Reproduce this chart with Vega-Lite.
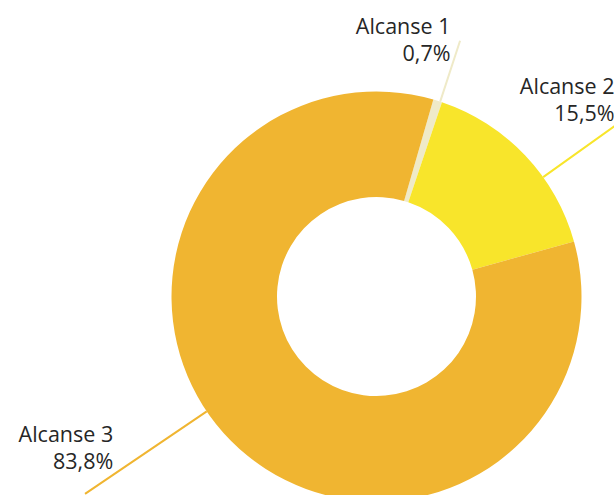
{
  "$schema": "https://vega.github.io/schema/vega-lite/v6.json",
  "width": 475,
  "height": 397,
  "autosize": "none",
  "padding": {"left": 139, "top": 98, "right": 0, "bottom": 0},
  "background": "white",
  "config": {"view": {"stroke": null}},
  "data": {
    "values": [
      {"category": "Alcanse 1", "pct": 0.7, "label": "0,7%"},
      {"category": "Alcanse 2", "pct": 15.5, "label": "15,5%"},
      {"category": "Alcanse 3", "pct": 83.8, "label": "83,8%"}
    ]
  },
  "layer": [
    {
      "mark": {"type": "arc", "innerRadius": 99.5, "outerRadius": 205},
      "encoding": {
        "theta": {"field": "pct", "type": "quantitative", "stack": true, "scale": {"domain": [0, 100], "range": [0.281, 6.5642]}},
        "color": {"field": "category", "type": "nominal", "legend": null,
          "scale": {"domain": ["Alcanse 1", "Alcanse 2", "Alcanse 3"], "range": ["#EFEAC8", "#F8E52B", "#F0B531"]}},
        "order": {"field": "category"}
      }
    },
    {
      "mark": {"type": "arc", "filled": false, "strokeWidth": 2, "innerRadius": 205},
      "encoding": {
        "theta": {"field": "pct", "type": "quantitative", "stack": null,
          "scale": {"type": "linear", "domain": [0.7, 15.5, 83.8], "range": [0.3159, 0.9495, 4.1172], "zero": false, "nice": false}},
        "theta2": {"field": "pct"},
        "radius": {"field": "pct", "type": "quantitative",
          "scale": {"type": "linear", "domain": [0.7, 15.5, 83.8], "range": [269, 300, 352], "zero": false, "nice": false}},
        "color": {"field": "category", "type": "nominal", "legend": null}
      }
    },
    {
      "transform": [{"calculate": "[datum.category, datum.label]", "as": "lines"}],
      "mark": {"type": "text", "align": "right", "baseline": "alphabetic", "font": "Open Sans", "fontSize": 21.5, "lineHeight": 27, "color": "#262626"},
      "encoding": {
        "theta": {"field": "pct", "type": "quantitative", "stack": null,
          "scale": {"type": "linear", "domain": [0.7, 15.5, 83.8], "range": [0.2742, 0.8647, 4.2080], "zero": false, "nice": false}},
        "radius": {"field": "pct", "type": "quantitative",
          "scale": {"type": "linear", "domain": [0.7, 15.5, 83.8], "range": [273.2, 312.8, 300.7], "zero": false, "nice": false}},
        "text": {"field": "lines"}
      }
    }
  ],
  "resolve": {"scale": {"theta": "independent", "radius": "independent"}}
}
